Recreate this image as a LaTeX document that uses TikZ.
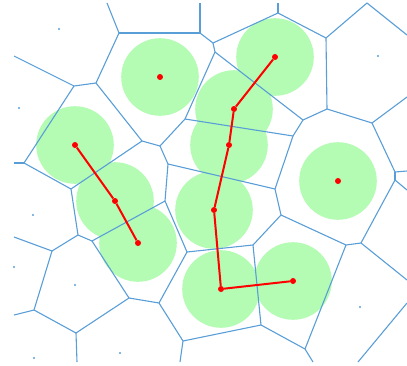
\documentclass[tikz,border=0pt]{standalone}
\usetikzlibrary{backgrounds}
\definecolor{cellblue}{RGB}{90,158,215}
\definecolor{zonegreen}{RGB}{180,251,180}

\begin{document}
\begin{tikzpicture}[x=1pt, y=-1pt,
    cell/.style={draw=cellblue, line width=1.1pt},
    zone/.style={fill=zonegreen},
    site/.style={circle, fill=red, inner sep=0pt, minimum size=6pt},
    spot/.style={circle, fill=cellblue, inner sep=0pt, minimum size=2.4pt},
    link/.style={draw=red, line width=2pt}]
    \useasboundingbox (0,0) rectangle (407,365);

    % cell corners
    \coordinate (v1) at (119,33);
    \coordinate (v2) at (200,33);
    \coordinate (v3) at (213,43);
    \coordinate (v4) at (215,52);
    \coordinate (v5) at (278,13);
    \coordinate (v6) at (326,38);
    \coordinate (v7) at (367,3);
    \coordinate (v8) at (96,83);
    \coordinate (v9) at (74,86);
    \coordinate (v10) at (24,163);
    \coordinate (v11) at (142,141);
    \coordinate (v12) at (160,146);
    \coordinate (v13) at (185,119);
    \coordinate (v14) at (303,120);
    \coordinate (v15) at (327,109);
    \coordinate (v16) at (372,123);
    \coordinate (v17) at (293,136);
    \coordinate (v18) at (395,172);
    \coordinate (v19) at (395,180);
    \coordinate (v20) at (168,164);
    \coordinate (v21) at (71,189);
    \coordinate (v22) at (165,201);
    \coordinate (v23) at (275,189);
    \coordinate (v24) at (281,215);
    \coordinate (v25) at (78,235);
    \coordinate (v26) at (92,241);
    \coordinate (v27) at (52,251);
    \coordinate (v28) at (187,252);
    \coordinate (v29) at (253,245);
    \coordinate (v30) at (346,245);
    \coordinate (v31) at (361,243);
    \coordinate (v32) at (34,310);
    \coordinate (v33) at (129,298);
    \coordinate (v34) at (159,303);
    \coordinate (v35) at (76,333);
    \coordinate (v36) at (183,341);
    \coordinate (v37) at (261,325);
    \coordinate (v38) at (305,349);

    % open ends at the frame
    \coordinate (b1) at (107,3);
    \coordinate (b2) at (200,3);
    \coordinate (b3) at (278,3);
    \coordinate (b4) at (14,56);
    \coordinate (b5) at (14,163);
    \coordinate (b6) at (14,237);
    \coordinate (b7) at (14,315);
    \coordinate (b8) at (77,362);
    \coordinate (b9) at (180,362);
    \coordinate (b10) at (313,362);
    \coordinate (b11) at (358,362);
    \coordinate (b12) at (407,35);
    \coordinate (b13) at (407,97);
    \coordinate (b14) at (407,171);
    \coordinate (b15) at (407,190);
    \coordinate (b16) at (407,280);
    \coordinate (b17) at (407,303);

    \path[cell]
        (b1) edge (v1)   (v1) edge (v2)   (v2) edge (b2)   (v2) edge (v3)
        (v3) edge (v4)   (v3) edge (v5)   (v5) edge (b3)   (v5) edge (v6)
        (v6) edge (v7)   (v7) edge (b12)  (v6) edge (v15)  (v1) edge (v8)
        (v8) edge (v9)   (b4) edge (v9)   (v9) edge (v10)  (b5) edge (v10)
        (v10) edge (v21) (v8) edge (v11)  (v11) edge (v21) (v11) edge (v12)
        (v12) edge (v13) (v13) edge (v4)  (v4) edge (v14)  (v13) edge (v17)
        (v14) edge (v17) (v14) edge (v15) (v15) edge (v16) (v16) edge (b13)
        (v16) edge (v18) (v18) edge (b14) (v18) edge (v19) (v19) edge (b15)
        (v19) edge (v31) (v31) edge (b16) (v31) edge (v30) (v30) edge (v24)
        (v30) edge (v38) (v38) edge (b10) (v38) edge (v37) (v37) edge (v29)
        (v37) edge (v36) (v36) edge (b9)  (v36) edge (v34) (v34) edge (v33)
        (v34) edge (v28) (v33) edge (v26) (v33) edge (v35) (v35) edge (b8)
        (v35) edge (v32) (v32) edge (b7)  (v32) edge (v27) (v27) edge (b6)
        (v27) edge (v25) (v25) edge (v21) (v25) edge (v26) (v26) edge (v22)
        (v22) edge (v20) (v22) edge (v28) (v20) edge (v12) (v20) edge (v23)
        (v23) edge (v17) (v23) edge (v24) (v24) edge (v29) (v29) edge (v28)
        (b17) edge (b11);

    % free sites
    \node[spot] (o1) at (59,29) {};
    \node[spot] (o2) at (19,108) {};
    \node[spot] (o3) at (378,56) {};
    \node[spot] (o4) at (33,215) {};
    \node[spot] (o5) at (14,267) {};
    \node[spot] (o6) at (75,285) {};
    \node[spot] (o7) at (34,358) {};
    \node[spot] (o8) at (120,353) {};
    \node[spot] (o9) at (360,307) {};

    % covered sites
    \node[site] (s1) at (160,77) {};
    \node[site] (s2) at (275,57) {};
    \node[site] (s3) at (234,109) {};
    \node[site] (s4) at (229,145) {};
    \node[site] (s5) at (75,145) {};
    \node[site] (s6) at (115,201) {};
    \node[site] (s7) at (214,210) {};
    \node[site] (s8) at (138,243) {};
    \node[site] (s9) at (338,181) {};
    \node[site] (s10) at (221,289) {};
    \node[site] (s11) at (293,281) {};

    \draw[link] (s5) -- (s6) -- (s8);
    \draw[link] (s2) -- (s3) -- (s4) -- (s7) -- (s10) -- (s11);

    \begin{scope}[on background layer]
        \fill[zone] (s1) circle[radius=38.8pt];
        \fill[zone] (s2) circle[radius=38.8pt];
        \fill[zone] (s3) circle[radius=38.8pt];
        \fill[zone] (s4) circle[radius=38.8pt];
        \fill[zone] (s5) circle[radius=38.8pt];
        \fill[zone] (s6) circle[radius=38.8pt];
        \fill[zone] (s7) circle[radius=38.8pt];
        \fill[zone] (s8) circle[radius=38.8pt];
        \fill[zone] (s9) circle[radius=38.8pt];
        \fill[zone] (s10) circle[radius=38.8pt];
        \fill[zone] (s11) circle[radius=38.8pt];
    \end{scope}
\end{tikzpicture}
\end{document}
